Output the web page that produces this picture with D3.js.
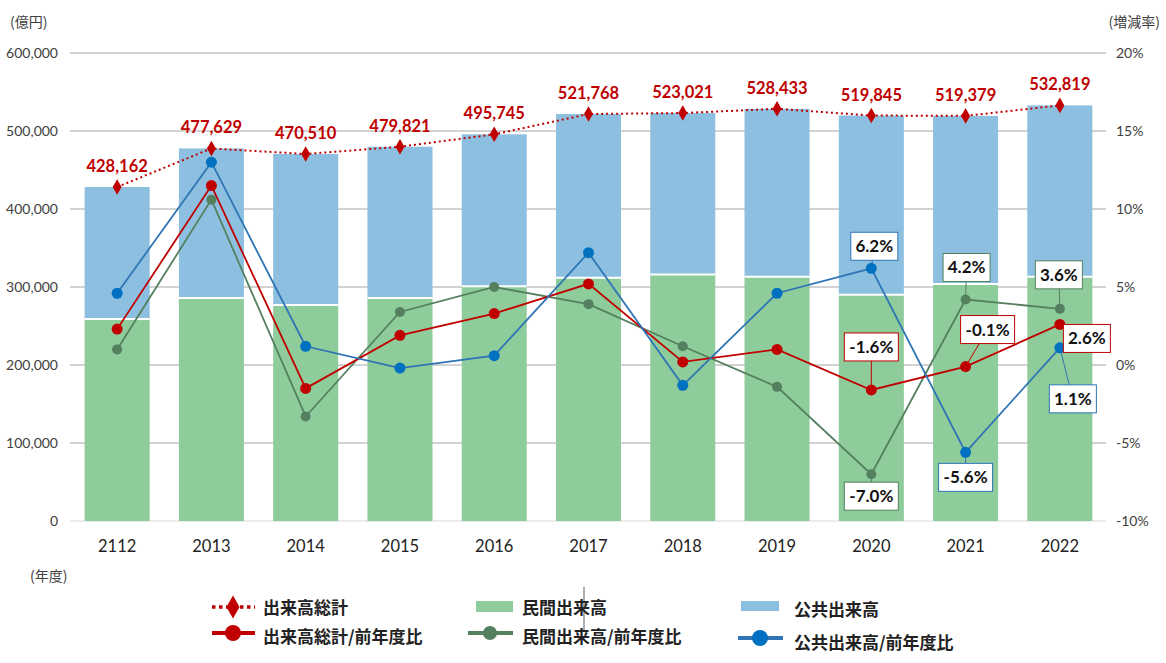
<!DOCTYPE html>
<html><head><meta charset="utf-8">
<script src="https://cdn.jsdelivr.net/npm/d3@7"></script>
<style>
html,body{margin:0;padding:0;background:#fff;}
svg{display:block;}
</style></head>
<body>
<svg id="chart" width="1166" height="663"></svg>
<script>
// ---- data ----
const years = ["2112","2013","2014","2015","2016","2017","2018","2019","2020","2021","2022"];
const totalValues = [428162,477629,470510,479821,495745,521768,523021,528433,519845,519379,532819];
const privateValues = [259000,286000,277000,286000,301000,312000,316000,313000,290000,304000,313000];
const publicValues = [169162,191629,193510,193821,194745,209768,207021,215433,229845,215379,219819];
const totalYoY = [2.3,11.5,-1.5,1.9,3.3,5.2,0.2,1.0,-1.6,-0.1,2.6];
const privateYoY = [1.0,10.6,-3.3,3.4,5.0,3.9,1.2,-1.4,-7.0,4.2,3.6];
const publicYoY = [4.6,13.0,1.2,-0.2,0.6,7.2,-1.3,4.6,6.2,-5.6,1.1];
const leftTicks = [0,100000,200000,300000,400000,500000,600000];
const rightTicks = [-10,-5,0,5,10,15,20];
const legendLabels = ["出来高総計","民間出来高","公共出来高","出来高総計/前年度比","民間出来高/前年度比","公共出来高/前年度比"];
// years whose YoY points carry a boxed label
const boxedYears = ["2020","2021","2022"];

// ---- styling / layout ----
const C = {green:"#8fcc9b", blue:"#8dc0e0", red:"#c00000", dkgreen:"#54805f", lblue:"#2f75b5", dblue:"#0070c0", grid:"#a6a6a6", text:"#404040"};
const numFont = "Lato, 'Liberation Sans', sans-serif";
const jpFont = "'Noto Sans CJK JP', sans-serif";
const svg = d3.select("#chart");
const pct = v => (v<0?"-":"") + Math.abs(v).toFixed(1) + "%";

const x = d3.scaleBand().domain(years).range([70,1107]).paddingInner(0.31).paddingOuter(0.155);
const y = d3.scaleLinear().domain([0,600000]).range([521,53]);
const y2 = d3.scaleLinear().domain([-10,20]).range([521,53]);

// gridlines
svg.append("g").selectAll("line").data(leftTicks).join("line")
  .attr("x1",70).attr("x2",1106).attr("y1",d=>y(d)).attr("y2",d=>y(d))
  .attr("stroke",d=>d===0?"#d9d9d9":C.grid).attr("stroke-width",1);

// left axis
const la = svg.append("g").attr("transform","translate(70,0)")
  .call(d3.axisLeft(y).tickValues(leftTicks).tickSize(0).tickPadding(12).tickFormat(d3.format(",")));
la.select(".domain").remove();
la.selectAll("text").attr("font-family",numFont).attr("font-size",14).attr("fill",C.text);

// right axis
const ra = svg.append("g").attr("transform","translate(1106,0)")
  .call(d3.axisRight(y2).tickValues(rightTicks).tickSize(0).tickPadding(10).tickFormat(d=>(d<0?"-":"")+Math.abs(d)+"%"));
ra.select(".domain").remove();
ra.selectAll("text").attr("font-family",numFont).attr("font-size",14).attr("fill",C.text);

// bottom axis
const ba = svg.append("g").attr("transform","translate(0,521)")
  .call(d3.axisBottom(x).tickSize(0).tickPadding(19));
ba.select(".domain").remove();
ba.selectAll("text").attr("font-family",numFont).attr("font-size",16.5).attr("fill","#222");

// unit labels
const unitStyle = t => t.attr("font-family",jpFont).attr("font-size",14).attr("fill",C.text);
unitStyle(svg.append("text").attr("x",10).attr("y",27).text("(億円)"));
unitStyle(svg.append("text").attr("x",1160).attr("y",27).attr("text-anchor","end").text("(増減率)"));
unitStyle(svg.append("text").attr("x",30).attr("y",581).text("(年度)"));

// bars
const bw = x.bandwidth();
svg.append("g").selectAll("rect").data(years).join("rect")
  .attr("x",d=>x(d)).attr("width",bw)
  .attr("y",(d,i)=>y(privateValues[i])).attr("height",(d,i)=>y(0)-y(privateValues[i]))
  .attr("fill",C.green);
svg.append("g").selectAll("rect").data(years).join("rect")
  .attr("x",d=>x(d)).attr("width",bw)
  .attr("y",(d,i)=>y(privateValues[i]+publicValues[i])).attr("height",(d,i)=>y(privateValues[i])-y(privateValues[i]+publicValues[i]))
  .attr("fill",C.blue);
// white separators
svg.append("g").selectAll("line").data(years).join("line")
  .attr("x1",d=>x(d)).attr("x2",d=>x(d)+bw)
  .attr("y1",(d,i)=>y(privateValues[i])).attr("y2",(d,i)=>y(privateValues[i]))
  .attr("stroke","#fff").attr("stroke-width",2);

const cx = d=>x(d)+bw/2;

// total dotted line
const lineT = d3.line().x((d,i)=>cx(years[i])).y(d=>y(d));
svg.append("path").datum(totalValues).attr("d",lineT).attr("fill","none")
  .attr("stroke",C.red).attr("stroke-width",2).attr("stroke-dasharray","2,3");
const diamond = d3.symbol().type(d3.symbolDiamond).size(70);
svg.append("g").selectAll("path").data(totalValues).join("path")
  .attr("d",diamond).attr("transform",(d,i)=>`translate(${cx(years[i])},${y(d)})`).attr("fill",C.red);
svg.append("g").selectAll("text").data(totalValues).join("text")
  .attr("x",(d,i)=>cx(years[i])).attr("y",d=>y(d)-15).attr("text-anchor","middle")
  .attr("font-family",numFont).attr("font-weight","bold").attr("font-size",16.5).attr("fill",C.red)
  .text(d=>d3.format(",")(d));

// YoY series
const series = [
  {vals:privateYoY, line:C.dkgreen, dot:C.dkgreen, r:5, offs:{"2020":[0,22],"2021":[1,-32],"2022":[-1,-34]}},
  {vals:totalYoY, line:C.red, dot:C.red, r:5.5, offs:{"2020":[0,-43],"2021":[22,-37],"2022":[27,14]}},
  {vals:publicYoY, line:C.lblue, dot:C.dblue, r:5.5, offs:{"2020":[3,-22],"2021":[0,25],"2022":[13,51]}}
];
const lineY = d3.line().x((d,i)=>cx(years[i])).y(d=>y2(d));
series.forEach(s=>{
  svg.append("path").datum(s.vals).attr("d",lineY).attr("fill","none").attr("stroke",s.line).attr("stroke-width",1.8);
});
// connectors
series.forEach(s=>{
  boxedYears.forEach(yr=>{
    const i = years.indexOf(yr), o = s.offs[yr];
    svg.append("line").attr("x1",cx(yr)).attr("y1",y2(s.vals[i]))
      .attr("x2",cx(yr)+o[0]).attr("y2",y2(s.vals[i])+o[1]).attr("stroke",s.line).attr("stroke-width",1);
  });
});
series.forEach(s=>{
  svg.append("g").selectAll("circle").data(s.vals).join("circle")
    .attr("cx",(d,i)=>cx(years[i])).attr("cy",d=>y2(d)).attr("r",s.r).attr("fill",s.dot);
});
// boxes
series.forEach(s=>{
  boxedYears.forEach(yr=>{
    const i = years.indexOf(yr), o = s.offs[yr];
    const bx = cx(yr)+o[0], by = y2(s.vals[i])+o[1];
    const g = svg.append("g");
    const txt = pct(s.vals[i]);
    const w = txt.length>4?54:47;
    g.append("rect").attr("x",bx-w/2).attr("y",by-14).attr("width",w).attr("height",28)
      .attr("fill","#fff").attr("stroke",s.line).attr("stroke-width",1);
    g.append("text").attr("x",bx).attr("y",by+6).attr("text-anchor","middle")
      .attr("font-family",numFont).attr("font-weight","bold").attr("font-size",17).attr("fill","#111").text(txt);
  });
});

// legend
const lg = svg.append("g").attr("font-family",jpFont).attr("font-weight","bold").attr("font-size",17).attr("fill","#222");
// row 1
lg.append("line").attr("x1",212).attr("x2",255).attr("y1",607).attr("y2",607).attr("stroke",C.red).attr("stroke-width",3.5).attr("stroke-dasharray","3.5,3.5");
lg.append("path").attr("d",d3.symbol().type(d3.symbolDiamond).size(150)).attr("transform","translate(233,607)").attr("fill",C.red);
lg.append("text").attr("x",263).attr("y",614).text(legendLabels[0]);
lg.append("rect").attr("x",476).attr("y",601).attr("width",37).attr("height",11).attr("fill",C.green);
lg.append("text").attr("x",522).attr("y",614).text(legendLabels[1]);
lg.append("rect").attr("x",741).attr("y",601).attr("width",38).attr("height",10).attr("fill",C.blue);
lg.append("text").attr("x",794).attr("y",616).text(legendLabels[2]);
// row 2
lg.append("line").attr("x1",212).attr("x2",255).attr("y1",633).attr("y2",633).attr("stroke",C.red).attr("stroke-width",4);
lg.append("circle").attr("cx",233).attr("cy",633).attr("r",8).attr("fill",C.red);
lg.append("text").attr("x",263).attr("y",643).text(legendLabels[3]);
lg.append("line").attr("x1",468).attr("x2",513).attr("y1",633).attr("y2",633).attr("stroke",C.dkgreen).attr("stroke-width",4);
lg.append("circle").attr("cx",490).attr("cy",633).attr("r",7).attr("fill",C.dkgreen);
lg.append("text").attr("x",522).attr("y",643).text(legendLabels[4]);
lg.append("line").attr("x1",738).attr("x2",783).attr("y1",638).attr("y2",638).attr("stroke",C.lblue).attr("stroke-width",4);
lg.append("circle").attr("cx",760).attr("cy",638).attr("r",8).attr("fill",C.dblue);
lg.append("text").attr("x",794).attr("y",649).text(legendLabels[5]);
// thin vertical mark seen in the reference legend
svg.append("line").attr("x1",584).attr("x2",584).attr("y1",587).attr("y2",630).attr("stroke","#333").attr("stroke-width",0.8);
</script>
</body></html>
